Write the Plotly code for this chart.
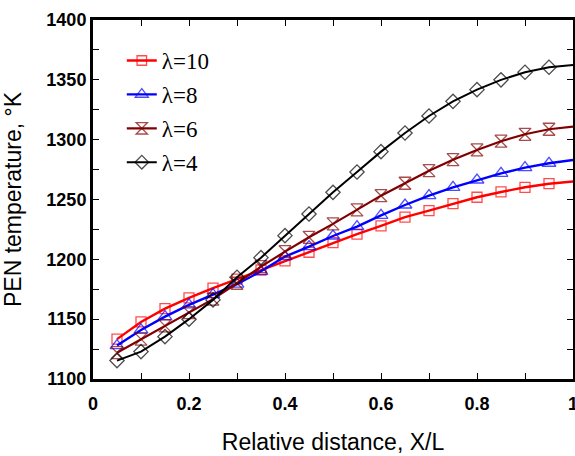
import plotly.graph_objects as go

x = [0.05, 0.10, 0.15, 0.20, 0.25, 0.30, 0.35, 0.40, 0.45, 0.50,
     0.55, 0.60, 0.65, 0.70, 0.75, 0.80, 0.85, 0.90, 0.95, 1.00]

t_lambda10 = [1133.3, 1147.7, 1158.8, 1167.8, 1175.9, 1183.4, 1191.1, 1198.7, 1205.9, 1214.0,
              1221.0, 1227.9, 1235.2, 1240.7, 1246.5, 1251.9, 1256.3, 1260.2, 1263.2, 1265.0]
t_lambda8 = [1127.9, 1141.0, 1152.1, 1161.9, 1170.5, 1179.2, 1190.0, 1202.3, 1210.6, 1219.5,
             1227.3, 1236.8, 1245.4, 1253.2, 1260.2, 1266.3, 1271.9, 1276.6, 1280.3, 1283.0]
t_lambda6 = [1122.0, 1133.3, 1144.4, 1155.5, 1166.7, 1180.0, 1193.9, 1206.4, 1218.4, 1229.6,
             1241.3, 1253.2, 1263.6, 1274.1, 1283.3, 1291.4, 1298.7, 1304.5, 1308.7, 1310.9]
t_lambda4 = [1115.4, 1122.9, 1135.4, 1150.0, 1166.1, 1185.0, 1201.4, 1219.8, 1237.9, 1256.0,
             1273.0, 1290.0, 1305.6, 1319.8, 1332.0, 1341.8, 1350.0, 1356.3, 1360.5, 1362.4]

names = ["λ=10", "λ=8", "λ=6", "λ=4"]
series = [t_lambda10, t_lambda8, t_lambda6, t_lambda4]
colors = ["#ff0000", "#0000ff", "#800000", "#000000"]
symbols = ["square-open", "triangle-up-open", "hourglass-open", "diamond-open"]
widths = [2.4, 2.4, 2.2, 2.0]
msizes = [10, 12, 12, 11]

x_tickvals = [0, 0.2, 0.4, 0.6, 0.8, 1.0]
x_ticktext = ["0", "0.2", "0.4", "0.6", "0.8", "1"]
x_tickmarks = [0.1, 0.2, 0.3, 0.4, 0.5, 0.6, 0.7, 0.8, 0.9]
y_tickvals = [1100, 1150, 1200, 1250, 1300, 1350, 1400]
y_tickmarks = [1125, 1150, 1175, 1200, 1225, 1250, 1275, 1300, 1325, 1350, 1375]

fig = go.Figure()
for i, (nm, ys, c, s, w, ms) in enumerate(zip(names, series, colors, symbols, widths, msizes)):
    sizes = [ms] * (len(x) - 1) + [0]
    fig.add_trace(go.Scatter(
        x=x, y=ys, name=nm, mode="lines+markers",
        legendgroup=f"g{i}",
        line=dict(color=c, width=w),
        marker=dict(symbol=s, size=sizes, color=c, line=dict(color=c, width=1.3)),
    ))

axis_common = dict(
    showline=True, linecolor="black", linewidth=3, mirror="allticks",
    ticks="",
    showgrid=False, zeroline=False, automargin=False,
    ticklabeloverflow="allow",
    tickfont=dict(family="Liberation Sans, Arial", size=18, color="black", weight="bold"),
)

fig.update_xaxes(
    range=[0, 1], tickvals=x_tickvals, ticktext=x_ticktext,
    minor=dict(tickvals=x_tickmarks, ticks="inside", ticklen=6, tickcolor="black", tickwidth=1.2),
    ticklabelstandoff=6,
    title=dict(text="Relative distance, X/L", font=dict(family="Liberation Sans, Arial", size=23, color="black"), standoff=22),
    **axis_common,
)
fig.update_yaxes(
    range=[1100, 1400], tickvals=y_tickvals,
    minor=dict(tickvals=y_tickmarks, ticks="inside", ticklen=6, tickcolor="black", tickwidth=1.2),
    title=dict(text="PEN temperature, °K", font=dict(family="Liberation Sans, Arial", size=23, color="black"), standoff=20),
    **axis_common,
)

fig.update_layout(
    width=575, height=456,
    margin=dict(l=93, r=2, t=20, b=77, autoexpand=False),
    plot_bgcolor="white", paper_bgcolor="white",
    legend=dict(
        x=0.06, y=0.947, xanchor="left", yanchor="top",
        bgcolor="rgba(0,0,0,0)", borderwidth=0,
        font=dict(family="Liberation Serif, Times New Roman", size=23, color="black"),
        tracegroupgap=1, itemwidth=30,
    ),
)

fig.write_html("out.html", config={"displayModeBar": False},
               post_script="document.body.style.margin='0';document.body.style.padding='0';")
